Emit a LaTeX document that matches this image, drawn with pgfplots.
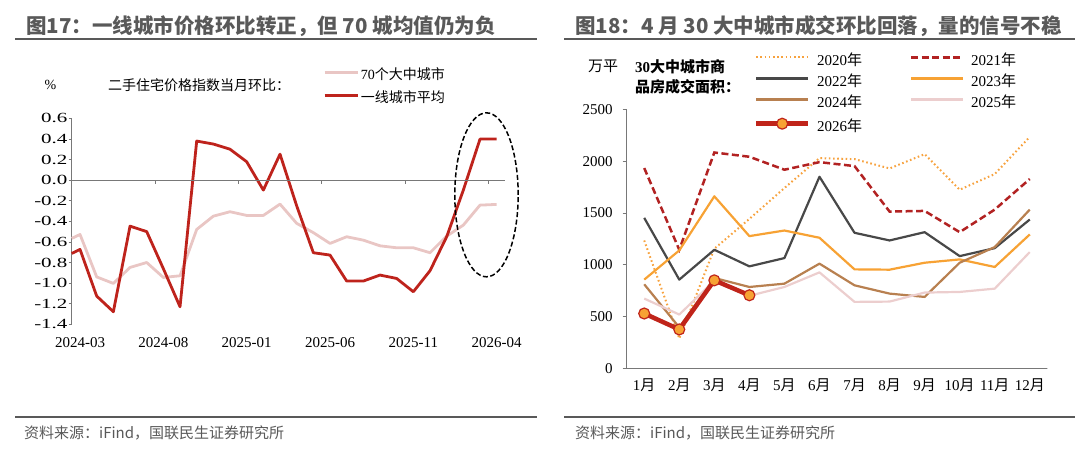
\documentclass[border=0pt]{standalone}
\usepackage{pgfplots}
\pgfplotsset{compat=1.18}
\usepackage{fontspec}
\setmainfont{Liberation Serif}
\newfontfamily\cjk{Noto Sans CJK SC}
\newfontfamily\ywide{Liberation Serif}[FakeStretch=1.5]
\definecolor{titlegray}{RGB}{89,89,89}
\definecolor{axisgray}{RGB}{120,120,120}
\definecolor{lred}{RGB}{190,35,28}
\definecolor{lpink}{RGB}{233,198,196}
\definecolor{c2020}{RGB}{247,162,62}
\definecolor{c2021}{RGB}{178,34,34}
\definecolor{c2022}{RGB}{72,72,72}
\definecolor{c2023}{RGB}{247,162,52}
\definecolor{c2024}{RGB}{184,128,80}
\definecolor{c2025}{RGB}{236,206,206}
\definecolor{c2026}{RGB}{192,36,26}
\begin{document}
\begin{tikzpicture}[x=1pt,y=1pt]
\useasboundingbox (0,0) rectangle (1080,-450);
% titles and rules
\node[anchor=base west, text=titlegray, font=\cjk\bfseries\fontsize{20.5}{20.5}\selectfont, inner sep=0pt] at (26,-33) {图17：一线城市价格环比转正，但 70 城均值仍为负};
\node[anchor=base west, text=titlegray, font=\cjk\bfseries\fontsize{20.5}{20.5}\selectfont, inner sep=0pt] at (575,-33) {图18：4 月 30 大中城市成交环比回落，量的信号不稳};
\draw[titlegray, line width=1.8pt] (15,-39) -- (537,-39);
\draw[titlegray, line width=1.8pt] (564,-39) -- (1075,-39);
\draw[titlegray, line width=1.8pt] (15,-417) -- (537,-417);
\draw[titlegray, line width=1.8pt] (564,-417) -- (1075,-417);
\node[anchor=west, text=titlegray, font=\cjk\fontsize{15}{15}\selectfont, inner sep=0pt] at (24,-433) {资料来源：iFind，国联民生证券研究所};
\node[anchor=west, text=titlegray, font=\cjk\fontsize{15}{15}\selectfont, inner sep=0pt] at (575,-433) {资料来源：iFind，国联民生证券研究所};
% left annotations
\node[font=\fontsize{14}{14}\selectfont, inner sep=0pt] at (50.5,-85) {\%};
\node[anchor=west, font=\cjk\fontsize{14}{14}\selectfont, inner sep=0pt] at (108,-85) {二手住宅价格指数当月环比：};
% right annotations
\node[font=\cjk\fontsize{15}{15}\selectfont, inner sep=0pt] at (603,-66.7) {万平};
\node[anchor=west, font=\bfseries\fontsize{15}{15}\selectfont, inner sep=0pt] at (635,-66.7) {30{\cjk 大中城市商}};
\node[anchor=west, font=\cjk\bfseries\fontsize{15}{15}\selectfont, inner sep=0pt] at (635,-86.7) {品房成交面积：};

\begin{axis}[
  at={(71.7pt,-324.3pt)}, anchor=south west,
  scale only axis, width=433.3pt, height=206pt,
  xmin=-0.5, xmax=25.5, ymin=-1.4, ymax=0.6,
  clip=false,
  axis x line*=bottom, axis y line*=left,
  x axis line style={draw=none},
  y axis line style={draw=axisgray, line width=0.8pt, -},
  xtick={0,5,10,15,20,25},
  xticklabels={2024-03,2024-08,2025-01,2025-06,2025-11,2026-04},
  xtick style={draw=none},
  ytick={-1.4,-1.2,-1,-0.8,-0.6,-0.4,-0.2,0,0.2,0.4,0.6},
  ytick style={draw=axisgray, line width=0.8pt},
  tick align=outside, major tick length=3pt,
  /pgf/number format/assume math mode=true,
  yticklabel style={/pgf/number format/fixed, /pgf/number format/fixed zerofill, /pgf/number format/precision=1, inner sep=0pt, xshift=-1pt, font=\ywide\fontsize{14}{14}\selectfont},
  xticklabel style={inner sep=0pt, anchor=north, yshift=-10pt, font=\fontsize{15}{15}\selectfont},
  legend style={draw=none, fill=none, at={(0.573,1.247)}, anchor=north west,
    font=\fontsize{14}{14}\selectfont, legend cell align=left,
    nodes={inner sep=0pt, text height=10pt, text depth=3pt}, row sep=10pt,
    /tikz/every odd column/.append style={column sep=2pt}},
  legend image code/.code={\draw[#1] (0pt,4pt) -- (33pt,4pt);},
]
\addplot[lpink, line width=2.8pt, line join=round] coordinates {
(-0.5,-0.566) (0,-0.528) (1,-0.94) (2,-1.003) (3,-0.848) (4,-0.80) (5,-0.945) (6,-0.929) (7,-0.479) (8,-0.35) (9,-0.307) (10,-0.343) (11,-0.343) (12,-0.233) (13,-0.42) (14,-0.51) (15,-0.615) (16,-0.55) (17,-0.583) (18,-0.638) (19,-0.657) (20,-0.657) (21,-0.705) (22,-0.544) (23,-0.437) (24,-0.243) (25,-0.236)};
\addlegendentry{70{\cjk 个大中城市}}
\addplot[lred, line width=2.8pt, line join=round] coordinates {
(-0.5,-0.712) (0,-0.673) (1,-1.126) (2,-1.278) (3,-0.447) (4,-0.50) (5,-0.86) (6,-1.23) (7,0.379) (8,0.35) (9,0.30) (10,0.178) (11,-0.097) (12,0.252) (13,-0.25) (14,-0.705) (15,-0.728) (16,-0.98) (17,-0.98) (18,-0.922) (19,-0.955) (20,-1.084) (21,-0.88) (22,-0.55) (23,-0.097) (24,0.398) (25,0.40)};
\addlegendentry{\cjk 一线城市平均}
\draw[axisgray, line width=0.8pt] (axis cs:-0.5,0) -- (axis cs:25.5,0);
\draw[axisgray, line width=0.8pt] (axis cs:4.5,0) -- ++(0pt,-4pt);
\draw[axisgray, line width=0.8pt] (axis cs:9.5,0) -- ++(0pt,-4pt);
\draw[axisgray, line width=0.8pt] (axis cs:14.5,0) -- ++(0pt,-4pt);
\draw[axisgray, line width=0.8pt] (axis cs:19.5,0) -- ++(0pt,-4pt);
\draw[axisgray, line width=0.8pt] (axis cs:24.5,0) -- ++(0pt,-4pt);
\draw[black, line width=1.5pt, dash pattern=on 5pt off 2.5pt] (axis cs:24.39,-0.143) ellipse [x radius=31.7pt, y radius=82pt];
\end{axis}

\begin{axis}[
  at={(626.7pt,-368.3pt)}, anchor=south west,
  scale only axis, width=420.6pt, height=259pt,
  xmin=0.5, xmax=12.5, ymin=0, ymax=2500,
  axis x line*=bottom, axis y line*=left,
  axis line style={draw=axisgray, line width=0.8pt, -},
  xtick={1,...,12},
  xticklabels={1{\cjk 月},2{\cjk 月},3{\cjk 月},4{\cjk 月},5{\cjk 月},6{\cjk 月},7{\cjk 月},8{\cjk 月},9{\cjk 月},10{\cjk 月},11{\cjk 月},12{\cjk 月}},
  xtick style={draw=none},
  ytick={0,500,1000,1500,2000,2500},
  ytick style={draw=axisgray, line width=0.8pt},
  tick align=outside, major tick length=4pt,
  /pgf/number format/assume math mode=true,
  /pgf/number format/set thousands separator={},
  yticklabel style={inner sep=0pt, xshift=-10pt},
  xticklabel style={inner sep=0pt, anchor=north, yshift=-6pt},
  tick label style={font=\fontsize{15}{15}\selectfont},
  legend columns=2,
  legend style={draw=none, fill=none, at={(0.295,1.2174)}, anchor=north west,
    font=\fontsize{15}{15}\selectfont, legend cell align=left,
    nodes={inner sep=0pt, text height=10.5pt, text depth=3pt}, row sep=7.5pt,
    /tikz/every odd column/.append style={column sep=6.7pt},
    /tikz/every even column/.append style={column sep=47.7pt}},
  legend image code/.code={\draw[mark repeat=2, mark phase=2, #1] plot coordinates {(0pt,4.5pt) (26pt,4.5pt) (52pt,4.5pt)};},
]
\draw[axisgray, line width=0.8pt] (axis cs:0.5,0) -- ++(0pt,-4pt);
\draw[axisgray, line width=0.8pt] (axis cs:1.5,0) -- ++(0pt,-4pt);
\draw[axisgray, line width=0.8pt] (axis cs:2.5,0) -- ++(0pt,-4pt);
\draw[axisgray, line width=0.8pt] (axis cs:3.5,0) -- ++(0pt,-4pt);
\draw[axisgray, line width=0.8pt] (axis cs:4.5,0) -- ++(0pt,-4pt);
\draw[axisgray, line width=0.8pt] (axis cs:5.5,0) -- ++(0pt,-4pt);
\draw[axisgray, line width=0.8pt] (axis cs:6.5,0) -- ++(0pt,-4pt);
\draw[axisgray, line width=0.8pt] (axis cs:7.5,0) -- ++(0pt,-4pt);
\draw[axisgray, line width=0.8pt] (axis cs:8.5,0) -- ++(0pt,-4pt);
\draw[axisgray, line width=0.8pt] (axis cs:9.5,0) -- ++(0pt,-4pt);
\draw[axisgray, line width=0.8pt] (axis cs:10.5,0) -- ++(0pt,-4pt);
\draw[axisgray, line width=0.8pt] (axis cs:11.5,0) -- ++(0pt,-4pt);
\draw[axisgray, line width=0.8pt] (axis cs:12.5,0) -- ++(0pt,-4pt);
\addplot[c2020, line width=2pt, dash pattern=on 1.6pt off 2.6pt] coordinates {(1,1234) (2,288) (3,1154) (4,1442) (5,1740) (6,2029) (7,2019) (8,1929) (9,2067) (10,1724) (11,1875) (12,2234)};
\addlegendentry{2020{\cjk 年}}
\addplot[c2021, line width=2.5pt, dash pattern=on 7pt off 3.5pt] coordinates {(1,1933) (2,1144) (3,2083) (4,2042) (5,1917) (6,1990) (7,1952) (8,1513) (9,1519) (10,1314) (11,1532) (12,1827)};
\addlegendentry{2021{\cjk 年}}
\addplot[c2022, line width=2.2pt, line join=round] coordinates {(1,1452) (2,856) (3,1144) (4,984) (5,1064) (6,1849) (7,1308) (8,1234) (9,1314) (10,1083) (11,1160) (12,1436)};
\addlegendentry{2022{\cjk 年}}
\addplot[c2023, line width=2.2pt, line join=round] coordinates {(1,856) (2,1138) (3,1660) (4,1276) (5,1330) (6,1260) (7,955) (8,952) (9,1019) (10,1051) (11,978) (12,1292)};
\addlegendentry{2023{\cjk 年}}
\addplot[c2024, line width=2.2pt, line join=round] coordinates {(1,811) (2,395) (3,872) (4,785) (5,817) (6,1010) (7,801) (8,721) (9,689) (10,1019) (11,1170) (12,1532)};
\addlegendentry{2024{\cjk 年}}
\addplot[c2025, line width=2.2pt, line join=round] coordinates {(1,673) (2,519) (3,845) (4,700) (5,785) (6,926) (7,641) (8,644) (9,731) (10,737) (11,769) (12,1122)};
\addlegendentry{2025{\cjk 年}}
\addplot[c2026, line width=4.5pt, line join=round, mark=*, mark size=5.5pt, mark options={fill=c2023, draw=c2026, line width=1.2pt}] coordinates {(1,529) (2,375) (3,849) (4,705)};
\addlegendentry{2026{\cjk 年}}
\end{axis}
\end{tikzpicture}
\end{document}
